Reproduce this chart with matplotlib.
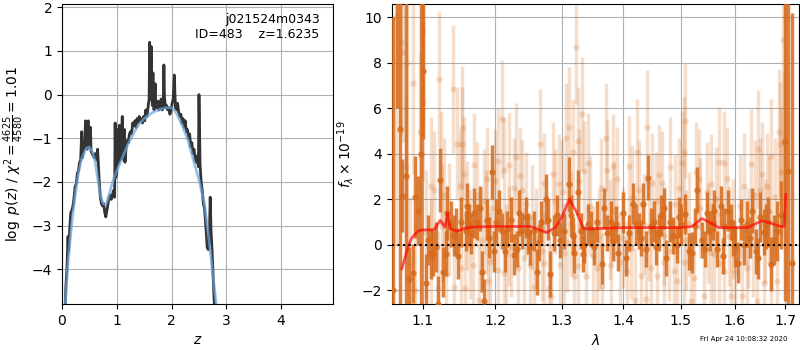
import numpy as np
import matplotlib.pyplot as plt
from matplotlib.ticker import FixedLocator, NullLocator, FormatStrFormatter

# p(z) panel
z_pz = np.array([0.06, 0.07, 0.09, 0.11, 0.12, 0.14, 0.16, 0.18, 0.20, 0.22,
                 0.24, 0.26, 0.28, 0.30, 0.32, 0.34, 0.36, 0.37, 0.39, 0.41,
                 0.43, 0.44, 0.46, 0.47, 0.48, 0.49, 0.51, 0.52, 0.53, 0.55,
                 0.57, 0.59, 0.61, 0.63, 0.65, 0.66, 0.68, 0.70, 0.72, 0.74,
                 0.76, 0.78, 0.80, 0.82, 0.84, 0.86, 0.88, 0.90, 0.92, 0.94,
                 0.96, 0.97, 0.98, 1.00, 1.01, 1.02, 1.04, 1.05, 1.06, 1.08,
                 1.10, 1.11, 1.13, 1.14, 1.15, 1.17, 1.19, 1.21, 1.23, 1.25,
                 1.27, 1.29, 1.31, 1.33, 1.35, 1.37, 1.39, 1.41, 1.43, 1.45,
                 1.47, 1.49, 1.51, 1.53, 1.55, 1.57, 1.59, 1.60, 1.61, 1.62,
                 1.63, 1.64, 1.65, 1.66, 1.67, 1.68, 1.70, 1.71, 1.73, 1.75,
                 1.77, 1.79, 1.81, 1.83, 1.85, 1.86, 1.87, 1.89, 1.91, 1.93,
                 1.95, 1.97, 1.99, 2.01, 2.03, 2.05, 2.07, 2.09, 2.11, 2.13,
                 2.15, 2.17, 2.19, 2.21, 2.23, 2.25, 2.27, 2.29, 2.31, 2.33,
                 2.35, 2.37, 2.39, 2.41, 2.43, 2.45, 2.47, 2.49, 2.50, 2.52,
                 2.54, 2.56, 2.58, 2.60, 2.63, 2.65, 2.67, 2.69, 2.705, 2.72,
                 2.74, 2.76, 2.78])
logp = np.array([-4.8, -4.4, -4.0, -3.25, -3.6, -3.1, -2.7, -2.65, -2.55, -2.35,
                 -2.1, -2.05, -1.8, -1.75, -1.55, -1.5, -0.85, -1.45, -1.3, -1.2,
                 -0.6, -1.1, -1.25, -0.65, -0.6, -1.2, -1.0, -0.75, -1.3, -1.35,
                 -1.4, -1.45, -1.35, -1.5, -1.25, -1.5, -2.0, -2.35, -2.5, -2.55,
                 -2.5, -2.7, -2.8, -2.65, -2.5, -2.35, -2.3, -2.4, -2.3, -2.2,
                 -2.35, -0.65, -1.9, -1.8, -0.8, -1.6, -1.45, -0.7, -1.5, -1.3,
                 -0.5, -1.4, -1.5, -0.8, -1.55, -1.2, -1.05, -1.1, -0.9, -0.85,
                 -0.9, -0.65, -0.7, -0.6, -0.75, -0.55, -0.65, -0.5, -0.6, -0.55,
                 -0.65, -0.5, -0.6, -0.35, -0.5, -0.3, -0.1, 1.2, 0.2, -0.1,
                 1.1, 0.0, -0.25, 0.5, -0.1, -0.35, 0.25, -0.2, -0.3, -0.15,
                 -0.35, -0.2, -0.1, -0.35, -0.1, 0.68, -0.05, -0.3, -0.25, -0.35,
                 -0.3, -0.45, -0.35, -0.2, -0.1, 0.45, -0.3, -0.35, -0.2, -0.4,
                 -0.5, -0.45, -0.65, -0.55, -0.75, -0.6, -0.85, -0.8, -1.0, -0.9,
                 -1.2, -1.1, -1.35, -1.25, -1.5, -1.55, -1.4, -1.65, 0.0, -1.6,
                 -2.0, -2.2, -2.5, -2.6, -3.1, -3.5, -3.55, -3.2, -2.35, -3.1,
                 -3.6, -4.2, -4.8])

z_smooth = np.array([0.06, 0.10, 0.15, 0.20, 0.25, 0.30, 0.35, 0.40, 0.45, 0.50,
                     0.55, 0.60, 0.65, 0.70, 0.75, 0.80, 0.85, 0.90, 0.95, 1.00,
                     1.10, 1.20, 1.30, 1.40, 1.50, 1.60, 1.70, 1.80, 1.90, 2.00,
                     2.05, 2.10, 2.20, 2.30, 2.40, 2.50, 2.60, 2.70, 2.76, 2.82])
logp_smooth = np.array([-4.8, -4.0, -3.3, -2.7, -2.2, -1.8, -1.5, -1.35, -1.22, -1.2,
                        -1.3, -1.5, -1.9, -2.3, -2.5, -2.52, -2.35, -2.1, -1.9, -1.75,
                        -1.45, -1.15, -0.9, -0.68, -0.55, -0.45, -0.38, -0.33, -0.3, -0.3,
                        -0.35, -0.45, -0.72, -1.05, -1.5, -1.95, -2.5, -3.5, -4.2, -4.85])

# spectrum panel: binned (dark) points
wave_bin = np.array([1.062, 1.067, 1.071, 1.073, 1.078, 1.082, 1.088, 1.090, 1.094, 1.098,
                     1.101, 1.105, 1.111, 1.114, 1.118, 1.121, 1.123, 1.127, 1.132, 1.133,
                     1.138, 1.142, 1.145, 1.152, 1.159, 1.160, 1.166, 1.170, 1.174, 1.178,
                     1.182, 1.184, 1.189, 1.195, 1.198, 1.202, 1.210, 1.214, 1.218, 1.223,
                     1.228, 1.235, 1.240, 1.248, 1.252, 1.258, 1.262, 1.268, 1.276, 1.282,
                     1.288, 1.293, 1.304, 1.311, 1.317, 1.320, 1.325, 1.330, 1.336, 1.342,
                     1.352, 1.357, 1.364, 1.373, 1.379, 1.387, 1.391, 1.400, 1.409, 1.417,
                     1.426, 1.434, 1.438, 1.442, 1.447, 1.452, 1.461, 1.464, 1.474, 1.481,
                     1.493, 1.501, 1.508, 1.514, 1.520, 1.530, 1.539, 1.548, 1.558, 1.561,
                     1.567, 1.573, 1.580, 1.588, 1.592, 1.600, 1.606, 1.618, 1.624, 1.634,
                     1.641, 1.649, 1.657, 1.666, 1.672, 1.684, 1.691, 1.700, 1.705, 1.713,
                     1.107, 1.148, 1.163, 1.192, 1.206, 1.232, 1.245, 1.265, 1.279, 1.298,
                     1.314, 1.333, 1.347, 1.368, 1.383, 1.404, 1.421, 1.430, 1.456, 1.469,
                     1.486, 1.497, 1.525, 1.544, 1.553, 1.577, 1.596, 1.612, 1.629, 1.645,
                     1.662, 1.678])
flux_bin = np.array([-2.0, 14.0, 5.1, 2.15, 3.0, -1.5, -1.27, 2.1, 1.5, 4.0,
                     7.65, -1.7, -0.4, -0.4, -0.1, -2.6, 2.85, -1.2, -0.4, 1.4,
                     0.9, 0.4, 0.6, 1.0, 0.6, 1.7, 0.5, 1.4, 1.0, 1.6,
                     -1.2, -2.5, 1.1, 3.2, -0.3, 1.0, 0.6, -0.3, 0.7, 1.1,
                     -0.45, 1.4, 0.6, 0.5, -0.1, 0.6, -1.2, 1.0, 2.0, -1.3,
                     0.5, 1.3, 0.6, 2.65, 0.4, -0.35, 2.3, 0.6, 0.0, 0.9,
                     -0.1, 1.0, -0.85, 0.5, 1.0, 0.9, -0.35, 1.4, 0.5, 1.8,
                     0.6, 1.8, -0.2, 2.95, 0.8, 1.0, 0.5, 1.3, -0.6, 1.0,
                     0.0, 0.9, 1.35, -0.3, -0.35, 2.4, 0.2, 1.4, 1.0, 1.5,
                     -0.2, 1.7, 0.8, 1.5, 1.0, -0.1, -0.8, 0.0, 0.9, 1.5,
                     -0.3, 1.2, 0.55, 1.0, -0.85, 0.6, 1.3, 4.5, 3.25, -0.8,
                     0.2, -0.5, 0.9, 0.3, 1.5, -0.2, 1.2, 0.1, 1.1, 0.2,
                     1.3, -0.4, 0.7, 1.6, 0.1, -0.6, 0.9, 0.3, -0.1, 1.6,
                     0.4, 1.2, 0.8, -0.2, 0.6, -0.5, 0.3, 1.1, 0.3, -0.6,
                     0.8, 0.2])
err_bin = np.array([12.0, 8.0, 8.0, 1.6, 9.0, 1.4, 1.3, 1.8, 1.5, 10.0,
                    3.0, 1.3, 1.1, 1.0, 1.1, 1.2, 1.4, 1.1, 1.0, 1.2,
                    1.0, 0.9, 1.0, 1.1, 0.9, 1.0, 0.9, 1.1, 0.8, 1.0,
                    0.9, 1.0, 0.9, 1.2, 0.9, 1.0, 0.8, 0.9, 0.8, 1.0,
                    0.9, 1.0, 0.8, 0.9, 0.8, 0.9, 1.0, 0.9, 1.1, 1.0,
                    0.8, 0.9, 0.8, 1.2, 0.8, 0.9, 1.0, 0.8, 0.8, 0.9,
                    0.8, 0.9, 0.9, 0.8, 0.9, 0.8, 0.8, 0.9, 0.8, 0.9,
                    0.8, 0.9, 0.8, 1.0, 0.8, 0.9, 0.8, 0.9, 0.8, 0.9,
                    0.8, 0.9, 0.9, 0.8, 0.9, 1.0, 0.8, 0.9, 0.8, 0.9,
                    0.8, 0.9, 0.8, 0.9, 0.8, 0.9, 0.9, 0.9, 1.0, 1.0,
                    1.0, 1.1, 1.0, 1.1, 1.2, 1.3, 1.5, 7.0, 7.5, 11.0,
                    1.1, 1.0, 0.9, 0.9, 0.9, 0.8, 0.9, 0.8, 0.9, 0.8,
                    0.9, 0.8, 0.8, 0.9, 0.8, 0.8, 0.9, 0.8, 0.8, 0.9,
                    0.8, 0.9, 0.8, 0.8, 0.9, 0.8, 0.8, 0.9, 0.9, 0.9,
                    1.0, 1.1])

# spectrum panel: unbinned (light) points
wave_raw = np.array([1.065, 1.072, 1.075, 1.079, 1.080, 1.087, 1.096, 1.100, 1.1005, 1.111,
                     1.122, 1.124, 1.129, 1.141, 1.146, 1.153, 1.154, 1.156, 1.170, 1.184,
                     1.189, 1.205, 1.210, 1.213, 1.221, 1.227, 1.231, 1.240, 1.267, 1.272,
                     1.286, 1.296, 1.306, 1.312, 1.317, 1.322, 1.326, 1.332, 1.336, 1.341,
                     1.371, 1.373, 1.383, 1.409, 1.423, 1.441, 1.448, 1.461, 1.481, 1.502,
                     1.505, 1.508, 1.527, 1.533, 1.555, 1.570, 1.580, 1.632, 1.646, 1.654,
                     1.664, 1.672, 1.687, 1.689, 1.695, 1.697, 1.700,
                     1.083, 1.090, 1.111, 1.120, 1.131, 1.143, 1.152, 1.157, 1.168, 1.177,
                     1.190, 1.193, 1.205, 1.213, 1.223, 1.233, 1.243, 1.252, 1.258, 1.273,
                     1.281, 1.284, 1.298, 1.304, 1.319, 1.326, 1.338, 1.357, 1.365, 1.379,
                     1.395, 1.406, 1.420, 1.429, 1.438, 1.447, 1.458, 1.470, 1.487, 1.493,
                     1.505, 1.519, 1.523, 1.542, 1.555, 1.570, 1.580, 1.592, 1.601, 1.614,
                     1.624, 1.644, 1.657, 1.671, 1.684,
                     1.105, 1.135, 1.160, 1.180, 1.195, 1.220, 1.245, 1.260, 1.290, 1.315,
                     1.345, 1.360, 1.385, 1.400, 1.415, 1.435, 1.455, 1.470, 1.490, 1.510,
                     1.535, 1.550, 1.565, 1.590, 1.610, 1.625, 1.640, 1.660, 1.680,
                     1.115, 1.126, 1.150, 1.165, 1.175, 1.187, 1.200, 1.216, 1.237, 1.255,
                     1.270, 1.300, 1.309, 1.328, 1.350, 1.362, 1.377, 1.390, 1.412, 1.426,
                     1.444, 1.466, 1.478, 1.496, 1.514, 1.547, 1.560, 1.585, 1.597, 1.618,
                     1.636, 1.650, 1.668, 1.692])
flux_raw = np.array([10.0, 8.9, 8.5, 3.4, 8.0, 7.1, 4.95, 9.4, 6.3, 2.6,
                     7.3, 3.4, 2.2, 6.85, 4.45, 5.15, 4.45, 3.1, 3.5, 1.9,
                     2.9, 3.7, 5.55, 3.3, 3.5, 2.5, 3.85, 2.4, 4.45, 2.7,
                     3.1, 2.65, 4.7, 5.2, 4.1, 8.7, 4.55, 5.75, 3.25, 3.6,
                     4.7, 3.3, 3.45, 3.45, 4.1, 5.2, 2.7, 3.05, 3.4, 3.6,
                     4.1, 5.45, 3.2, 2.9, 2.65, 3.65, 3.6, 3.55, 4.2, 3.1,
                     2.6, 3.9, 4.95, 4.45, 9.0, 4.6, 10.0,
                     -0.9, -2.0, -0.65, -1.9, -1.3, -1.85, -1.05, -1.9, -0.9, -2.45,
                     -1.6, -0.75, -1.1, -1.25, -0.1, -1.05, -0.6, -0.9, -1.85, -0.8,
                     -1.9, -2.25, -0.9, -0.35, -1.4, -0.95, -1.4, -1.05, -1.8, -0.9,
                     -0.75, -1.15, -2.45, -1.4, -2.4, -1.05, -1.4, -0.75, -1.15, -1.6,
                     -0.75, -2.5, -1.45, -2.25, -0.35, -0.8, -1.15, -2.25, -1.15, -2.25,
                     -1.05, -2.5, -1.7, -0.9, -1.6,
                     0.5, 1.1, 1.3, 0.2, 1.6, 0.4, 1.8, 0.3, 1.9, 0.9,
                     1.7, 0.2, 1.5, 0.3, 2.1, 0.9, 1.9, 0.4, 1.8, 0.2,
                     1.6, 0.5, 2.0, 0.4, 1.7, 0.3, 2.2, 0.6, 2.1,
                     2.4, 0.8, 2.6, 0.0, 2.2, 1.0, 2.8, -0.4, 3.0, 1.2,
                     -0.3, 2.3, 0.1, 2.8, -0.5, 2.5, 0.7, 2.9, -0.2, 2.4,
                     0.6, 2.7, -0.3, 2.5, 0.9, 2.3, -0.4, 2.9, 0.7, 2.6,
                     0.0, 2.4, 1.5, 3.2])
err_raw = np.array([10.0, 4.0, 4.0, 3.0, 8.0, 4.0, 3.5, 4.0, 3.5, 3.0,
                    3.0, 2.5, 2.5, 2.8, 2.5, 2.7, 2.5, 2.5, 2.3, 2.3,
                    2.3, 2.3, 2.6, 2.3, 2.3, 2.2, 2.4, 2.2, 2.4, 2.2,
                    2.3, 2.2, 2.4, 2.6, 2.3, 2.5, 2.4, 2.5, 2.2, 2.2,
                    2.4, 2.2, 2.3, 2.2, 2.3, 2.5, 2.2, 2.2, 2.2, 2.3,
                    2.4, 2.5, 2.2, 2.2, 2.2, 2.4, 2.3, 2.4, 2.6, 2.3,
                    2.3, 2.5, 2.8, 2.7, 8.0, 3.0, 9.0,
                    3.0, 3.0, 2.6, 2.5, 2.4, 2.4, 2.3, 2.4, 2.2, 2.4,
                    2.3, 2.2, 2.2, 2.3, 2.2, 2.2, 2.2, 2.2, 2.3, 2.2,
                    2.3, 2.3, 2.2, 2.2, 2.3, 2.2, 2.2, 2.2, 2.3, 2.2,
                    2.2, 2.2, 2.3, 2.2, 2.3, 2.2, 2.2, 2.2, 2.2, 2.3,
                    2.2, 2.3, 2.2, 2.3, 2.2, 2.2, 2.2, 2.3, 2.2, 2.3,
                    2.2, 2.4, 2.3, 2.4, 2.6,
                    2.8, 2.5, 2.4, 2.3, 2.3, 2.2, 2.3, 2.2, 2.3, 2.3,
                    2.2, 2.2, 2.2, 2.2, 2.3, 2.2, 2.2, 2.2, 2.2, 2.2,
                    2.2, 2.2, 2.3, 2.2, 2.3, 2.2, 2.4, 2.3, 2.6,
                    2.6, 2.5, 2.4, 2.4, 2.3, 2.3, 2.3, 2.2, 2.2, 2.3,
                    2.2, 2.3, 2.2, 2.3, 2.2, 2.2, 2.2, 2.3, 2.2, 2.2,
                    2.2, 2.3, 2.2, 2.2, 2.3, 2.2, 2.2, 2.3, 2.2, 2.3,
                    2.3, 2.3, 2.4, 2.8])

# best-fit model
wave_model = np.array([1.073, 1.082, 1.086, 1.094, 1.100, 1.115, 1.1236, 1.130, 1.1335, 1.137,
                       1.1466, 1.1575, 1.170, 1.200, 1.2522, 1.2768, 1.290, 1.300, 1.3122, 1.322,
                       1.335, 1.350, 1.400, 1.450, 1.500, 1.520, 1.538, 1.555, 1.570, 1.625,
                       1.653, 1.670, 1.690, 1.698, 1.701])
flux_model = np.array([-1.05, 0.0, 0.3, 0.6, 0.65, 0.65, 1.07, 0.78, 1.4, 0.7,
                       0.6, 0.72, 0.78, 0.8, 0.8, 0.53, 0.75, 1.2, 2.0, 1.5,
                       0.7, 0.7, 0.75, 0.75, 0.75, 0.8, 1.15, 0.95, 0.75, 0.75,
                       1.05, 0.95, 0.8, 0.8, 2.2])

xticks_spec = [1.1, 1.2, 1.3, 1.4, 1.5, 1.6, 1.7]

orange = (0.84, 0.42, 0.11)

fig = plt.figure(figsize=(8, 3.5), dpi=100)
ax1 = fig.add_axes([0.0775, 0.131, 0.339, 0.858])
ax2 = fig.add_axes([0.4896, 0.131, 0.5095, 0.858])

# p(z)
ax1.plot(z_pz, logp, color='0.2', lw=2)
ax1.plot(z_smooth, logp_smooth, color=(0.42, 0.65, 0.88), lw=2, alpha=0.7)
ax1.set_xlim(0, 4.95)
ax1.set_ylim(-4.8, 2.08)
ax1.set_xlabel(r'$z$')
ax1.set_ylabel(r'$\log\ p(z)$ / $\chi^2=\frac{4625}{4580}=1.01$')
ax1.grid()
ax1.text(0.95, 0.97, 'j021524m0343\nID=483    z=1.6235', transform=ax1.transAxes,
         ha='right', va='top', fontsize=9)

# spectrum
ax2.errorbar(wave_raw, flux_raw, yerr=err_raw, fmt='o', color=orange, alpha=0.22,
             ms=4.5, elinewidth=2.5, mew=0, zorder=2)
ax2.errorbar(wave_bin, flux_bin, yerr=err_bin, fmt='o', color=orange, alpha=0.85,
             ms=4.5, elinewidth=2.5, mew=0, zorder=3)
ax2.plot(wave_model, flux_model, color='r', lw=2, alpha=0.65, zorder=4)
ax2.axhline(0, color='k', ls=':', lw=1.5, zorder=5)
ax2.set_xscale('log')
ax2.xaxis.set_major_locator(FixedLocator(xticks_spec))
ax2.xaxis.set_major_formatter(FormatStrFormatter('%.1f'))
ax2.xaxis.set_minor_locator(NullLocator())
ax2.set_xlim(1.060, 1.729)
ax2.set_ylim(-2.62, 10.6)
ax2.set_xlabel(r'$\lambda$')
ax2.set_ylabel(r'$f_\lambda\times10^{-19}$')
ax2.grid()

fig.text(0.984, 0.031, 'Fri Apr 24 10:08:32 2020', ha='right', va='center', fontsize=5)

fig.savefig('out.png', dpi=100)
